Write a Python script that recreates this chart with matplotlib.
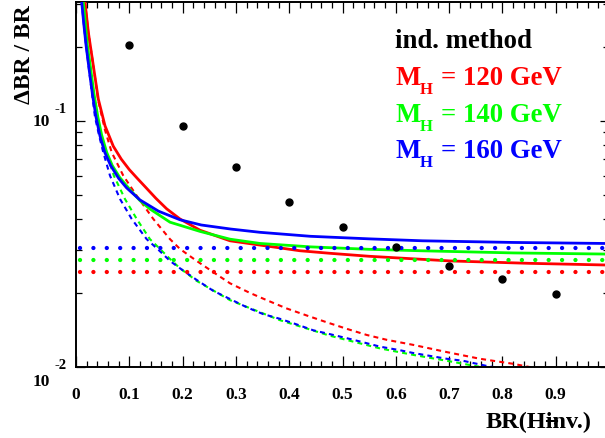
import matplotlib
matplotlib.use("Agg")
import matplotlib.pyplot as plt
import matplotlib.transforms as mtransforms
from matplotlib.ticker import FixedLocator, NullFormatter

# ---- data ----
BR_INV = [0.1, 0.2, 0.3, 0.4, 0.5, 0.6, 0.7, 0.8, 0.9]
IND_METHOD = [0.204, 0.0954, 0.065, 0.0469, 0.0371, 0.0308, 0.0258, 0.0229, 0.0199]

MASSES = ["120", "140", "160"]
COLORS = {"120": "#ff0000", "140": "#00ff00", "160": "#0000ff"}

# systematic floor (dotted lines)
FLOOR = {"120": 0.0244, "140": 0.0272, "160": 0.0305}

# total error (solid)
SOLID_X = {
    "120": [0.0169, 0.0231, 0.0325, 0.0418, 0.0544, 0.07, 0.085, 0.1, 0.115, 0.13, 0.15,
            0.17, 0.195, 0.2326, 0.2889, 0.3827, 0.42, 0.4765, 0.55, 0.7017, 0.85, 0.99],
    "140": [0.0137, 0.0175, 0.0212, 0.028, 0.034, 0.041, 0.048, 0.0576, 0.068, 0.082, 0.1,
            0.12, 0.1388, 0.1764, 0.2326, 0.2889, 0.345, 0.3827, 0.44, 0.55, 0.6454, 0.82, 0.99],
    "160": [0.0107, 0.0145, 0.0188, 0.025, 0.031, 0.0375, 0.045, 0.054, 0.065, 0.08, 0.095,
            0.12, 0.155, 0.195, 0.235, 0.29, 0.345, 0.44, 0.55, 0.65, 0.82, 0.99],
}
SOLID_Y = {
    "120": [0.305, 0.23, 0.168, 0.123, 0.0957, 0.079, 0.070, 0.0635, 0.0585, 0.0540, 0.0485,
            0.0440, 0.0400, 0.0360, 0.0326, 0.0305, 0.0297, 0.0290, 0.0282, 0.0270, 0.0264, 0.0260],
    "140": [0.305, 0.25, 0.204, 0.160, 0.128, 0.104, 0.088, 0.0746, 0.066, 0.059, 0.0530,
            0.0475, 0.0439, 0.0388, 0.0356, 0.0331, 0.0318, 0.0314, 0.0308, 0.0301, 0.0297,
            0.0291, 0.0288],
    "160": [0.305, 0.25, 0.204, 0.160, 0.128, 0.104, 0.087, 0.0746, 0.066, 0.0585, 0.0535,
            0.0478, 0.0430, 0.0397, 0.0378, 0.0364, 0.0353, 0.0340, 0.0332, 0.0326, 0.0321,
            0.0318],
}

# statistical error only (dashed)
DASH_X = {
    "120": [0.0169, 0.0231, 0.0325, 0.0418, 0.0544, 0.067, 0.0887, 0.1139, 0.145, 0.1764,
            0.1951, 0.2264, 0.2576, 0.2889, 0.3265, 0.3578, 0.3953, 0.4328, 0.4704, 0.5079,
            0.5454, 0.5829, 0.6328, 0.6955, 0.758, 0.8205, 0.8612],
    "140": [0.0137, 0.0175, 0.0212, 0.028, 0.0335, 0.0395, 0.047, 0.0565, 0.0710, 0.0919,
            0.1139, 0.1388, 0.1576, 0.1764, 0.1951, 0.2264, 0.2889, 0.3827, 0.4765, 0.5704,
            0.6328, 0.6955, 0.7705, 0.785],
    "160": [0.0107, 0.0145, 0.0188, 0.025, 0.0305, 0.0356, 0.0435, 0.0512, 0.0638, 0.0826,
            0.1045, 0.1326, 0.1544, 0.1764, 0.1951, 0.2264, 0.2576, 0.2889, 0.3203, 0.3514,
            0.3827, 0.4141, 0.4452, 0.4765, 0.5079, 0.539, 0.5704, 0.6079, 0.6328, 0.6955,
            0.7261, 0.7705, 0.7955],
}
DASH_Y = {
    "120": [0.305, 0.23, 0.168, 0.121, 0.092, 0.0746, 0.0600, 0.0497, 0.0400, 0.0331,
            0.0302, 0.0270, 0.0243, 0.0219, 0.0200, 0.0187, 0.0173, 0.0162, 0.0152, 0.0143,
            0.0135, 0.0129, 0.0123, 0.0115, 0.0108, 0.0103, 0.0099],
    "140": [0.305, 0.25, 0.204, 0.158, 0.127, 0.104, 0.087, 0.0746, 0.0600, 0.0482,
            0.0400, 0.0331, 0.0302, 0.0275, 0.0252, 0.0224, 0.0187, 0.0155, 0.0134, 0.0119,
            0.0112, 0.0106, 0.0099, 0.0098],
    "160": [0.305, 0.25, 0.204, 0.158, 0.127, 0.104, 0.087, 0.0746, 0.0600, 0.0482,
            0.0400, 0.0331, 0.0300, 0.0270, 0.0252, 0.0226, 0.0204, 0.0189, 0.0175, 0.0164,
            0.0157, 0.0149, 0.0141, 0.0136, 0.0131, 0.0126, 0.0121, 0.0117, 0.0114, 0.0108,
            0.0106, 0.0101, 0.0099],
}

X_TICKS = [0, 0.1, 0.2, 0.3, 0.4, 0.5, 0.6, 0.7, 0.8, 0.9, 1.0]
X_TICKLABELS = ["0", "0.1", "0.2", "0.3", "0.4", "0.5", "0.6", "0.7", "0.8", "0.9", "1"]

SERIF = ["Liberation Serif", "DejaVu Serif"]
plt.rcParams["font.family"] = SERIF
plt.rcParams["font.weight"] = "bold"

W, H = 605, 439
fig = plt.figure(figsize=(W / 100, H / 100), dpi=100)
ax = fig.add_axes([76 / W, (H - 368) / H, (609 - 76) / W, 365 / H])

for m in MASSES:
    ax.plot(DASH_X[m], DASH_Y[m], color=COLORS[m], lw=1.5, dashes=(2.4, 2.0), zorder=2)
for m in MASSES:
    ax.plot(SOLID_X[m], SOLID_Y[m], color=COLORS[m], lw=2.0, zorder=3)
for m in MASSES:
    ax.axhline(FLOOR[m], xmin=0.0075, xmax=1.0, color=COLORS[m], lw=3.1,
               dashes=(0.01, 3.1), dash_capstyle="round", zorder=4)
ax.plot(BR_INV, IND_METHOD, "o", color="black", ms=5, zorder=5)

ax.set_yscale("log")
ax.set_xlim(0, 1.0)
ax.set_ylim(0.01, 0.305)

ax.xaxis.set_major_locator(FixedLocator(X_TICKS))
ax.set_xticklabels(X_TICKLABELS, fontsize=12.5, fontweight="bold")
ax.xaxis.set_minor_locator(FixedLocator([i * 0.02 for i in range(51)]))
ax.yaxis.set_major_locator(FixedLocator([0.01, 0.1]))
ax.yaxis.set_minor_locator(FixedLocator([k * 0.01 for k in range(2, 10)] + [0.2, 0.3]))
ax.yaxis.set_major_formatter(NullFormatter())
ax.yaxis.set_minor_formatter(NullFormatter())

ax.tick_params(which="both", direction="in", top=True, right=True, width=0.9)
ax.tick_params(axis="x", which="major", length=8, pad=13.5)
ax.tick_params(axis="x", which="minor", length=4.3)
ax.tick_params(axis="y", which="major", length=6.5)
ax.tick_params(axis="y", which="minor", length=4.5)
for sp in ax.spines.values():
    sp.set_linewidth(1.4)

# y tick labels in ROOT style: "10" with a detached exponent
trans = mtransforms.blended_transform_factory(ax.transAxes, ax.transData)
for val, exp, dy_base, dy_exp in [(0.1, "-1", 0, 9), (0.01, "-2", -10, 2)]:
    ax.annotate("10", xy=(0, val), xycoords=trans, xytext=(-19, dy_base),
                textcoords="offset points", ha="right", va="center",
                fontsize=12.5, fontweight="bold")
    ax.annotate(exp, xy=(0, val), xycoords=trans, xytext=(-7, dy_exp),
                textcoords="offset points", ha="right", va="center",
                fontsize=10.5, fontweight="bold")

# axis titles
fig.text(25 / W, 1 - 104 / H, "ΔBR / BR", rotation=90, ha="center", va="bottom",
         fontsize=17, fontweight="bold")
fig.text(592 / W, 1 - 428 / H, "BR(Hinv.)", ha="right", va="baseline",
         fontsize=17.5, fontweight="bold")
fig.text(551 / W, 1 - 421 / H, "→", ha="center", va="center", fontsize=12,
         family=["DejaVu Sans"], fontweight="bold")

# legend block
LEG_SIZE = 19.3
fig.text(395 / W, 1 - 48 / H, "ind. method", ha="left", va="baseline",
         fontsize=LEG_SIZE, fontweight="bold", color="black")
for i, m in enumerate(MASSES):
    base = 85 + 36.7 * i
    fig.text(395 / W, 1 - base / H, "M", ha="left", va="baseline",
             fontsize=LEG_SIZE, fontweight="bold", color=COLORS[m])
    fig.text(420 / W, 1 - (base + 9) / H, "H", ha="left", va="baseline",
             fontsize=12, fontweight="bold", color=COLORS[m])
    fig.text(441 / W, 1 - base / H, f"= {m} GeV", ha="left", va="baseline",
             fontsize=LEG_SIZE, fontweight="bold", color=COLORS[m])

fig.savefig("out.png", dpi=100)
